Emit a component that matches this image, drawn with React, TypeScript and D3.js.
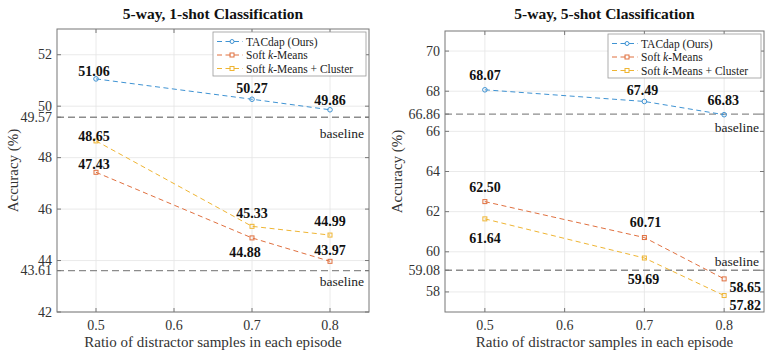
import React from "react";
import * as d3 from "d3";

// ---------- data ----------
const ratios = [0.5, 0.7, 0.8];
const xTicks = [0.5, 0.6, 0.7, 0.8];

const seriesNames = ["TACdap (Ours)", "Soft k-Means", "Soft k-Means + Cluster"];

const oneShotTAC = [51.06, 50.27, 49.86];
const oneShotSoft = [47.43, 44.88, 43.97];
const oneShotCluster = [48.65, 45.33, 44.99];
const oneShotBaselines = [49.57, 43.61];
const oneShotTicks = [42, 44, 46, 48, 50, 52];

const fiveShotTAC = [68.07, 67.49, 66.83];
const fiveShotSoft = [62.5, 60.71, 58.65];
const fiveShotCluster = [61.64, 59.69, 57.82];
const fiveShotBaselines = [66.86, 59.08];
const fiveShotTicks = [58, 60, 62, 64, 66, 68, 70];

// ---------- styles / layout ----------
const COLORS = ["#3f93d3", "#e0703f", "#efb533"];
const SERIF = "'Liberation Serif', 'Times New Roman', serif";

// label offsets (dx, dy) relative to the point, per series per point
const oneShotLabelOff = [
  [[-2, -8], [0, -11], [0, -10]],
  [[-2, -8], [-7, 14], [0, -11]],
  [[-2, -5], [0, -13], [0, -14]],
];
const fiveShotLabelOff = [
  [[0, -15], [-2, -11], [-1, -15]],
  [[0, -15], [1, -16], [21, 8]],
  [[0, 19], [-1, 21], [21, 9]],
];
const oneShotBaseOff = [16, 11];
const fiveShotBaseOff = [13, -9];

type PanelProps = {
  left: number;
  right: number;
  top: number;
  bottom: number;
  title: string;
  yDomain: [number, number];
  yTicks: number[];
  series: number[][];
  baselines: number[];
  labelOff: number[][][];
  baseOff: number[];
  yLabelX: number;
};

function Panel(p: PanelProps) {
  const x = d3.scaleLinear().domain([0.45, 0.85]).range([p.left, p.right]);
  const y = d3.scaleLinear().domain(p.yDomain).range([p.bottom, p.top]);
  const line = d3
    .line<number>()
    .x((_, i) => x(ratios[i]))
    .y((d) => y(d));
  const allYTicks = [...p.yTicks, ...p.baselines];
  const cx = (p.left + p.right) / 2;
  const legW = 153;
  const legX = p.right - 3 - legW;
  const legY = p.top + 3;

  return (
    <g>
      {/* title */}
      <text x={cx} y={19} textAnchor="middle" fontFamily={SERIF} fontWeight="bold" fontSize={15.5} fill="#111">
        {p.title}
      </text>
      {/* grid */}
      {xTicks.map((t) => (
        <line key={"gx" + t} x1={x(t)} x2={x(t)} y1={p.top} y2={p.bottom} stroke="#e4e4e4" strokeWidth={0.8} />
      ))}
      {p.yTicks.map((t) => (
        <line key={"gy" + t} x1={p.left} x2={p.right} y1={y(t)} y2={y(t)} stroke="#e4e4e4" strokeWidth={0.8} />
      ))}
      {/* baselines */}
      {p.baselines.map((b, i) => (
        <g key={"b" + i}>
          <line x1={p.left} x2={p.right} y1={y(b)} y2={y(b)} stroke="#8c8c8c" strokeWidth={1.3} strokeDasharray="7,4" />
          <text x={p.right - 5} y={y(b) + p.baseOff[i] + 4.5} textAnchor="end" fontFamily={SERIF} fontSize={13.5} fill="#222">
            baseline
          </text>
        </g>
      ))}
      {/* axes box */}
      <rect x={p.left} y={p.top} width={p.right - p.left} height={p.bottom - p.top} fill="none" stroke="#777" strokeWidth={1} />
      {allYTicks.map((t) => (
        <g key={"yt" + t}>
          <line x1={p.left} x2={p.left + 4} y1={y(t)} y2={y(t)} stroke="#777" />
          <line x1={p.right} x2={p.right - 4} y1={y(t)} y2={y(t)} stroke="#777" />
          <text x={p.left - 5} y={y(t) + 4.5} textAnchor="end" fontFamily={SERIF} fontSize={14} fill="#333">
            {Number.isInteger(t) ? t : t.toFixed(2)}
          </text>
        </g>
      ))}
      {xTicks.map((t) => (
        <g key={"xt" + t}>
          <line x1={x(t)} x2={x(t)} y1={p.bottom} y2={p.bottom - 4} stroke="#777" />
          <line x1={x(t)} x2={x(t)} y1={p.top} y2={p.top + 4} stroke="#777" />
          <text x={x(t)} y={p.bottom + 18} textAnchor="middle" fontFamily={SERIF} fontSize={14} fill="#333">
            {t.toFixed(1)}
          </text>
        </g>
      ))}
      {/* axis labels */}
      <text x={cx} y={347} textAnchor="middle" fontFamily={SERIF} fontSize={15} fill="#333">
        Ratio of distractor samples in each episode
      </text>
      <text
        transform={`translate(${p.yLabelX},${(p.top + p.bottom) / 2}) rotate(-90)`}
        textAnchor="middle"
        fontFamily={SERIF}
        fontSize={15}
        fill="#333"
      >
        Accuracy (%)
      </text>
      {/* series */}
      {p.series.map((s, si) => (
        <g key={"s" + si}>
          <path d={line(s) || ""} fill="none" stroke={COLORS[si]} strokeWidth={1} strokeDasharray="5,3.5" />
          {s.map((v, i) =>
            si === 0 ? (
              <circle key={i} cx={x(ratios[i])} cy={y(v)} r={2.3} fill="none" stroke={COLORS[si]} strokeWidth={1} />
            ) : (
              <rect key={i} x={x(ratios[i]) - 2} y={y(v) - 2} width={4} height={4} fill="none" stroke={COLORS[si]} strokeWidth={1} />
            )
          )}
          {s.map((v, i) => (
            <text
              key={"l" + i}
              x={x(ratios[i]) + p.labelOff[si][i][0]}
              y={y(v) + p.labelOff[si][i][1] + 5}
              textAnchor="middle"
              fontFamily={SERIF}
              fontWeight="bold"
              fontSize={14}
              fill="#111"
            >
              {v.toFixed(2)}
            </text>
          ))}
        </g>
      ))}
      {/* legend */}
      <rect x={legX} y={legY} width={legW} height={44} fill="#fff" stroke="#999" strokeWidth={0.8} />
      {seriesNames.map((n, i) => {
        const ly = legY + 9.5 + i * 13.5;
        const parts = n.split("k");
        return (
          <g key={"leg" + i}>
            <line x1={legX + 4} x2={legX + 30} y1={ly} y2={ly} stroke={COLORS[i]} strokeWidth={1} strokeDasharray="5,3.5" />
            {i === 0 ? (
              <circle cx={legX + 19} cy={ly} r={2} fill="none" stroke={COLORS[i]} />
            ) : (
              <rect x={legX + 17} y={ly - 2} width={4} height={4} fill="none" stroke={COLORS[i]} />
            )}
            <text x={legX + 33} y={ly + 4} fontFamily={SERIF} fontSize={11.5} fill="#222">
              {parts.length > 1 ? (
                <>
                  {parts[0]}
                  <tspan fontStyle="italic">k</tspan>
                  {parts[1]}
                </>
              ) : (
                n
              )}
            </text>
          </g>
        );
      })}
    </g>
  );
}

export default function App() {
  return (
    <svg width={772} height={357} style={{ position: "absolute", left: 0, top: 0, background: "#fff" }}>
      <Panel
        left={57}
        right={369}
        top={29}
        bottom={312}
        title="5-way, 1-shot Classification"
        yDomain={[42, 53]}
        yTicks={oneShotTicks}
        series={[oneShotTAC, oneShotSoft, oneShotCluster]}
        baselines={oneShotBaselines}
        labelOff={oneShotLabelOff}
        baseOff={oneShotBaseOff}
        yLabelX={18}
      />
      <Panel
        left={445}
        right={764}
        top={31}
        bottom={312}
        title="5-way, 5-shot Classification"
        yDomain={[57, 71]}
        yTicks={fiveShotTicks}
        series={[fiveShotTAC, fiveShotSoft, fiveShotCluster]}
        baselines={fiveShotBaselines}
        labelOff={fiveShotLabelOff}
        baseOff={fiveShotBaseOff}
        yLabelX={402}
      />
    </svg>
  );
}
